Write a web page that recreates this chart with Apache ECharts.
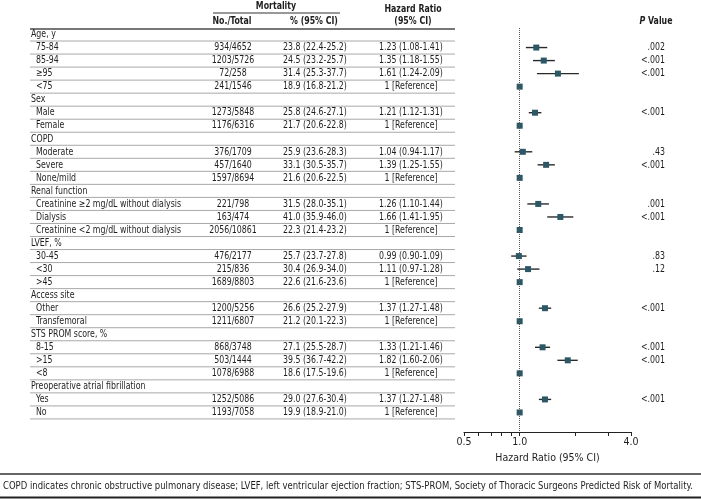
<!DOCTYPE html>
<html><head><meta charset="utf-8">
<script src="https://cdn.jsdelivr.net/npm/echarts@6/dist/echarts.min.js"></script>
<style>html,body{margin:0;padding:0;background:#fff}#c{width:701px;height:499px}</style>
</head><body><div id="c"></div>
<script>
// ---- data ----
const labels = ["Age, y","75-84","85-94","\u226595","<75","Sex","Male","Female","COPD","Moderate","Severe","None/mild",
  "Renal function","Creatinine \u22652 mg/dL without dialysis","Dialysis","Creatinine <2 mg/dL without dialysis",
  "LVEF, %","30-45","<30",">45","Access site","Other","Transfemoral","STS PROM score, %","8-15",">15","<8",
  "Preoperative atrial fibrillation","Yes","No"];
const counts = ["","934/4652","1203/5726","72/258","241/1546","","1273/5848","1176/6316","","376/1709","457/1640","1597/8694",
  "","221/798","163/474","2056/10861","","476/2177","215/836","1689/8803","","1200/5256","1211/6807","","868/3748","503/1444","1078/6988",
  "","1252/5086","1193/7058"];
const mortPct = ["","23.8 (22.4-25.2)","24.5 (23.2-25.7)","31.4 (25.3-37.7)","18.9 (16.8-21.2)","","25.8 (24.6-27.1)","21.7 (20.6-22.8)",
  "","25.9 (23.6-28.3)","33.1 (30.5-35.7)","21.6 (20.6-22.5)","","31.5 (28.0-35.1)","41.0 (35.9-46.0)","22.3 (21.4-23.2)",
  "","25.7 (23.7-27.8)","30.4 (26.9-34.0)","22.6 (21.6-23.6)","","26.6 (25.2-27.9)","21.2 (20.1-22.3)",
  "","27.1 (25.5-28.7)","39.5 (36.7-42.2)","18.6 (17.5-19.6)","","29.0 (27.6-30.4)","19.9 (18.9-21.0)"];
const hr  = [null,1.23,1.35,1.61,1,null,1.21,1,null,1.04,1.39,1,null,1.26,1.66,1,null,0.99,1.11,1,null,1.37,1,null,1.33,1.82,1,null,1.37,1];
const hrLo= [null,1.08,1.18,1.24,null,null,1.12,null,null,0.94,1.25,null,null,1.10,1.41,null,null,0.90,0.97,null,null,1.27,null,null,1.21,1.60,null,null,1.27,null];
const hrHi= [null,1.41,1.55,2.09,null,null,1.31,null,null,1.17,1.55,null,null,1.44,1.95,null,null,1.09,1.28,null,null,1.48,null,null,1.46,2.06,null,null,1.48,null];
const pVals = ["",".002","<.001","<.001","","","<.001","","",".43","<.001","","",".001","<.001","","",".83",".12","","","<.001","","","<.001","<.001","","","<.001",""];
const xTicks = [0.5,0.6,0.7,0.8,0.9,1,2,3,4];
const xLabels = [0.5,1,4];
const footnote = "COPD indicates chronic obstructive pulmonary disease; LVEF, left ventricular ejection fraction; STS-PROM, Society of Thoracic Surgeons Predicted Risk of Mortality.";

// ---- chart ----
const FONT = '"DejaVu Sans Condensed","Liberation Sans Narrow",sans-serif';
const TXT = '#1e1e1e';
const SX = 0.83;
const chart = echarts.init(document.getElementById('c'), null, {renderer:'canvas'});
const rows = labels.map((l,i)=>i);
const isCat = i => hr[i] === null;

function txt(x, y, s, align, bold, sx){
  return {type:'text', x:x, y:y, scaleX:(sx||SX), silent:true,
    style:{x:0, y:0, text:s, fill:TXT, font:(bold?'bold ':'')+'10.5px '+FONT, textAlign:align, textVerticalAlign:'middle'}};
}

const tableSeries = {
  type:'custom', silent:true, z:1,
  data: rows.map(i=>[1,i]),
  renderItem: function(params, api){
    const i = api.value(1);
    const y = api.coord([1,i])[1];
    const kids = [];
    kids.push(txt(isCat(i)?31:36, y, labels[i], 'left'));
    if (counts[i]) kids.push(txt(233, y, counts[i], 'center'));
    if (mortPct[i]) kids.push(txt(315, y, mortPct[i], 'center'));
    if (!isCat(i)) {
      const s = hrLo[i]===null ? '1 [Reference]' : hr[i].toFixed(2)+' ('+hrLo[i].toFixed(2)+'-'+hrHi[i].toFixed(2)+')';
      kids.push(txt(411, y, s, 'center'));
    }
    if (pVals[i]) kids.push(txt(665, y, pVals[i], 'right'));
    kids.push({type:'line', shape:{x1:30, y1:y+6.5, x2:455, y2:y+6.5}, style:{stroke:'#a8a8a8', lineWidth:1}});
    return {type:'group', children:kids};
  }
};

const ciSeries = {
  type:'custom', z:3,
  data: rows.filter(i=>hrLo[i]!==null).map(i=>[hrLo[i],hrHi[i],i]),
  renderItem: function(params, api){
    const a = api.coord([api.value(0), api.value(2)]);
    const b = api.coord([api.value(1), api.value(2)]);
    return {type:'line', shape:{x1:a[0], y1:a[1], x2:b[0], y2:b[1]}, style:{stroke:'#2a2a2a', lineWidth:1.4}};
  }
};

const pointSeries = {
  type:'scatter', z:4, symbol:'rect', symbolSize:6, itemStyle:{color:'#2c5866', opacity:1},
  data: rows.filter(i=>hr[i]!==null).map(i=>[hr[i], i]),
  markLine:{silent:true, symbol:'none', label:{show:false},
    lineStyle:{color:'#555', type:[1,1], width:1}, data:[{xAxis:1}]}
};

// fit footnote width
const cv = document.createElement('canvas').getContext('2d');
const FOOTFONT = '10.5px "DejaVu Sans","Liberation Sans",sans-serif';
cv.font = FOOTFONT;
const footSX = 690 / cv.measureText(footnote).width;

chart.setOption({
  animation:false,
  textStyle:{fontFamily:FONT},
  grid:{left:464, width:167, top:28, height:404, containLabel:false},
  xAxis:{type:'log', logBase:2, min:0.5, max:4,
    axisLine:{show:true, onZero:false, lineStyle:{color:'#222', width:1.2}},
    axisTick:{show:true, length:4, customValues:xTicks, lineStyle:{color:'#222'}},
    axisLabel:{show:true, customValues:xLabels, formatter:v=>Number(v).toFixed(1), color:TXT, fontSize:10.5, fontFamily:FONT, margin:5},
    splitLine:{show:false}, minorTick:{show:false},
    name:'Hazard Ratio (95% CI)', nameLocation:'middle', nameGap:20,
    nameTextStyle:{color:TXT, fontSize:10.5, fontFamily:FONT}},
  yAxis:{type:'value', inverse:true, min:-0.5, max:30.5, show:false},
  graphic:[
    txt(276, 6, 'Mortality', 'center', true),
    {type:'line', shape:{x1:213,y1:13,x2:340,y2:13}, style:{stroke:'#333', lineWidth:1}},
    txt(232, 21, 'No./Total', 'center', true),
    txt(314, 21, '% (95% CI)', 'center', true),
    txt(413, 9, 'Hazard Ratio', 'center', true),
    txt(413, 21, '(95% CI)', 'center', true),
    {type:'text', x:656, y:21, scaleX:SX, style:{x:0, y:0, text:'{i|P} Value', font:'bold 10.5px '+FONT, fill:TXT, textAlign:'center', textVerticalAlign:'middle',
      rich:{i:{fontStyle:'italic', fontWeight:'bold', fontSize:10.5, fontFamily:FONT, fill:TXT}}}},
    {type:'line', shape:{x1:30,y1:29,x2:455,y2:29}, style:{stroke:'#777', lineWidth:2}},
    {type:'line', shape:{x1:0,y1:474,x2:701,y2:474}, style:{stroke:'#666', lineWidth:2}},
    {type:'text', x:3, y:486, scaleX:footSX, style:{x:0, y:0, text:footnote, font:FOOTFONT, fill:TXT, textAlign:'left', textVerticalAlign:'middle'}},
    {type:'line', shape:{x1:0,y1:497.5,x2:701,y2:497.5}, style:{stroke:'#222', lineWidth:2}}
  ],
  series:[tableSeries, ciSeries, pointSeries]
});
</script></body></html>
